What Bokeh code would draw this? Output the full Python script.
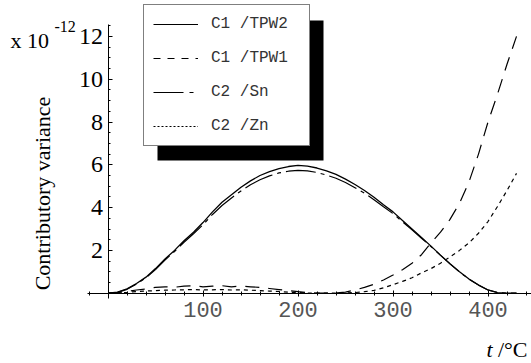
import math
from bokeh.plotting import figure
from bokeh.models import (Range1d, LinearAxis, FixedTicker, Legend, LegendItem,
                          Label, BoxAnnotation, ColumnDataSource)
from bokeh.embed import file_html
from bokeh.resources import INLINE

# ---- data (values in units of 1e-12) ----
t = [0, 10, 20, 30, 40, 50, 60, 70, 80, 90, 100, 110, 120, 130, 140, 150, 160,
     170, 180, 190, 200, 210, 220, 230, 240, 250, 260, 270, 280, 290, 300, 310,
     320, 330, 340, 350, 360, 370, 380, 390, 400, 410, 420, 430]

c1_tpw2 = [0, 0.05, 0.2, 0.45, 0.75, 1.15, 1.6, 2.0, 2.45, 2.85, 3.3, 3.8, 4.25,
           4.6, 4.95, 5.25, 5.5, 5.68, 5.82, 5.92, 5.97, 5.94, 5.85, 5.72, 5.55,
           5.33, 5.08, 4.8, 4.48, 4.13, 3.8, 3.4, 3.0, 2.6, 2.2, 1.78, 1.38, 1.0,
           0.66, 0.38, 0.15, 0.03, 0.0, 0.0]

c1_tpw1 = [0, 0.02, 0.08, 0.15, 0.2, 0.27, 0.3, 0.28, 0.33, 0.35, 0.3, 0.33, 0.35,
           0.3, 0.33, 0.3, 0.27, 0.22, 0.17, 0.12, 0.07, 0.03, 0.01, 0.0, 0.01,
           0.05, 0.15, 0.27, 0.42, 0.62, 0.85, 1.1, 1.4, 1.8, 2.35, 2.85, 3.45,
           4.2, 5.2, 6.5, 8.0, 9.3, 10.7, 12.0]

c2_sn = [0, 0.04, 0.18, 0.43, 0.72, 1.1, 1.55, 1.95, 2.38, 2.78, 3.2, 3.68, 4.1,
         4.45, 4.78, 5.07, 5.3, 5.48, 5.62, 5.7, 5.74, 5.72, 5.64, 5.52, 5.37,
         5.17, 4.93, 4.67, 4.37, 4.04, 3.72, 3.34, 2.96, 2.57, 2.18, 1.77, 1.37,
         0.99, 0.66, 0.38, 0.15, 0.03, 0.0, 0.0]

c2_zn = [0, 0.01, 0.04, 0.08, 0.1, 0.12, 0.14, 0.15, 0.16, 0.17, 0.15, 0.16, 0.17,
         0.15, 0.16, 0.14, 0.12, 0.1, 0.08, 0.05, 0.03, 0.01, 0.0, 0.0, 0.0, 0.01,
         0.03, 0.07, 0.13, 0.25, 0.4, 0.55, 0.72, 0.95, 1.15, 1.4, 1.7, 2.0, 2.35,
         2.8, 3.35, 4.05, 4.8, 5.6]

x_major = [100, 200, 300, 400]
x_minor = list(range(-20, 441, 20))
y_major = [2, 4, 6, 8, 10, 12]
y_minor = [i * 0.5 for i in range(0, 26)]

series_names = ["C1 /TPW2", "C1 /TPW1", "C2 /Sn", "C2 /Zn"]

# ---- pixel <-> data helpers (layout only) ----
X0, SX = 107.5, 0.95     # px of t=0, px per degree
Y0, SY = 292.7, 21.4     # px of v=0, px per unit
W, H = 531, 363


def dx(px):
    return (px - X0) / SX


def dy(py):
    return (Y0 - py) / SY


p = figure(width=W, height=H, output_backend="svg", toolbar_location=None,
           x_axis_location=None, y_axis_location=None, min_border=0,
           x_range=Range1d(dx(0), dx(W)), y_range=Range1d(dy(H), dy(0)))
p.outline_line_color = None
p.grid.visible = False
p.background_fill_color = "white"
p.border_fill_color = "white"

xaxis = LinearAxis(fixed_location=0, bounds=(dx(87), dx(W)),
                   ticker=FixedTicker(ticks=x_major, minor_ticks=x_minor))
xaxis.axis_line_color = "black"
xaxis.major_tick_in = 3
xaxis.major_tick_out = 3
xaxis.minor_tick_in = 2
xaxis.minor_tick_out = 2
xaxis.major_tick_line_color = "black"
xaxis.minor_tick_line_color = "black"
xaxis.major_label_text_font = "Liberation Mono"
xaxis.major_label_text_font_size = "22px"
xaxis.major_label_text_color = "#555555"
xaxis.major_label_standoff = 6
p.add_layout(xaxis, "below")

yaxis = LinearAxis(fixed_location=0, bounds=(dy(298), dy(24)),
                   ticker=FixedTicker(ticks=y_major, minor_ticks=y_minor))
yaxis.axis_line_color = "black"
yaxis.major_tick_in = 4
yaxis.major_tick_out = 0
yaxis.minor_tick_in = 2
yaxis.minor_tick_out = 0
yaxis.major_label_text_font = "Liberation Serif"
yaxis.major_label_text_font_size = "24px"
yaxis.major_label_text_color = "black"
yaxis.major_label_standoff = 5
p.add_layout(yaxis, "left")

src = ColumnDataSource(dict(t=t, a=c1_tpw2, b=c1_tpw1, c=c2_sn, d=c2_zn))
p.line("t", "a", source=src, line_color="black", line_width=1.3)
p.line("t", "b", source=src, line_color="black", line_width=1.2, line_dash="14 9")
p.line("t", "c", source=src, line_color="black", line_width=1.2, line_dash="30 5 4 5")
p.line("t", "d", source=src, line_color="black", line_width=1.2, line_dash="4 4")

# legend sample renderers (a single undefined point: nothing is drawn in the plot)
nan = float("nan")
lr = []
for dash in ["solid", "7 7", "30 6 4 6", "2 2"]:
    s = ColumnDataSource(dict(x=[nan], y=[nan]))
    lr.append(p.line("x", "y", source=s, line_color="black", line_width=1.2,
                     line_dash=dash))

shadow = BoxAnnotation(left=dx(157), right=dx(323), top=dy(20), bottom=dy(160),
                       fill_color="black", fill_alpha=1, line_color=None)
p.add_layout(shadow)

legend = Legend(items=[LegendItem(label=n, renderers=[r]) for n, r in zip(series_names, lr)],
                location=(143, H - 146), orientation="vertical",
                border_line_color="black", border_line_width=1,
                background_fill_color="white", background_fill_alpha=1,
                glyph_width=45, glyph_height=20, label_height=20, label_width=89,
                label_standoff=13, spacing=14, padding=9, margin=0,
                label_text_font="Liberation Mono", label_text_font_size="16px",
                label_text_color="#333333")
p.add_layout(legend, "center")

serif = "Liberation Serif"
p.add_layout(Label(x=dx(42), y=dy(193), text="Contributory variance", angle=math.pi / 2,
                   text_align="center", text_baseline="middle", text_font=serif,
                   text_font_size="22px", text_color="black"))
p.add_layout(Label(x=dx(10), y=dy(40), text="x 10", text_align="left",
                   text_baseline="alphabetic", text_font=serif, text_font_size="22px",
                   text_color="black"))
p.add_layout(Label(x=dx(54), y=dy(26), text="-12", text_align="left",
                   text_baseline="alphabetic", text_font=serif, text_font_size="16px",
                   text_color="black"))
p.add_layout(Label(x=dx(492), y=dy(349), text="t", text_align="right",
                   text_baseline="alphabetic", text_font=serif, text_font_size="22px",
                   text_font_style="italic", text_color="black"))
p.add_layout(Label(x=dx(527), y=dy(349), text="/°C", text_align="right",
                   text_baseline="alphabetic", text_font=serif, text_font_size="22px",
                   text_color="black"))

open("out.html", "w").write(file_html(p, INLINE))
